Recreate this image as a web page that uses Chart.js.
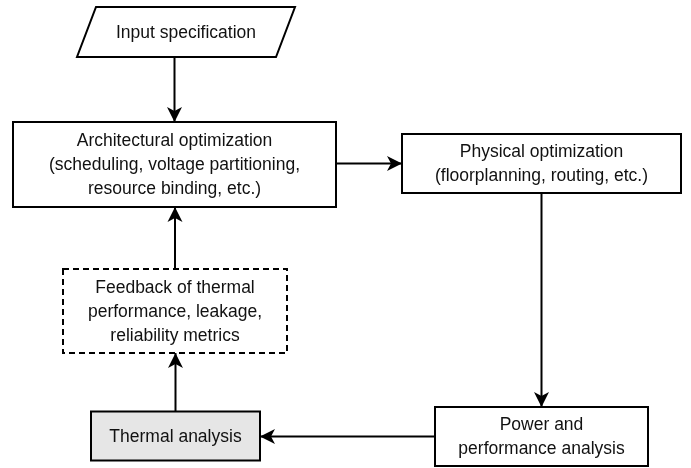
<!DOCTYPE html>
<html>
<head>
<meta charset="utf-8">
<script src="https://cdn.jsdelivr.net/npm/chart.js@4"></script>
<style>
  html, body { margin: 0; padding: 0; background: #fff; }
  #wrap { width: 691px; height: 468px; }
</style>
</head>
<body>
<div id="wrap"><canvas id="flow" width="691" height="468"></canvas></div>
<script>
// ---------- data ----------
const nodeLabels = [
    ['Input specification'],
    ['Architectural optimization', '(scheduling, voltage partitioning,', 'resource binding, etc.)'],
    ['Physical optimization', '(floorplanning, routing, etc.)'],
    ['Power and', 'performance analysis'],
    ['Thermal analysis'],
    ['Feedback of thermal', 'performance, leakage,', 'reliability metrics']
];
const nodeX = [186, 174.5, 541.5, 541.5, 175.5, 175];
const nodeY = [32, 164.5, 163.5, 436.5, 436, 311];
const edgeFrom = [0, 1, 2, 3, 4, 5];
const edgeTo   = [1, 2, 3, 4, 5, 1];

// ---------- layout / style (not data) ----------
const SHAPES = ['parallelogram', 'box', 'box', 'box', 'grey', 'dashed'];
const SIZES = [[199, 50], [323, 85], [279, 59], [213, 59], [169, 49], [224, 84]];
const SKEW = 19;
const FONT = "17.5px 'Liberation Sans', Arial, sans-serif";
const LINE_H = 24;

function boxOf(i) {
    const [w, h] = SIZES[i];
    return { l: nodeX[i] - w / 2, r: nodeX[i] + w / 2, t: nodeY[i] - h / 2, b: nodeY[i] + h / 2 };
}

// edge endpoints derived from the node boxes
function edgePoints(k) {
    const a = boxOf(edgeFrom[k]), b = boxOf(edgeTo[k]);
    const f = edgeFrom[k], t = edgeTo[k];
    if (a.b < b.t) return [{ x: nodeX[t], y: a.b }, { x: nodeX[t], y: b.t }];     // down
    if (a.t > b.b) return [{ x: nodeX[f], y: a.t }, { x: nodeX[f], y: b.b }];     // up
    if (a.r < b.l) return [{ x: a.r, y: nodeY[t] }, { x: b.l, y: nodeY[t] }];     // right
    return [{ x: a.l, y: nodeY[f] }, { x: b.r, y: nodeY[f] }];                   // left
}

const edgeSets = edgeFrom.map((_, k) => ({
    type: 'line',
    data: edgePoints(k),
    borderColor: '#000',
    borderWidth: 2,
    pointRadius: 0,
    fill: false,
    tension: 0
}));

const nodeSet = {
    type: 'scatter',
    data: nodeX.map((x, i) => ({ x, y: nodeY[i] })),
    pointRadius: 0
};

// arrowheads + node shapes drawn with the chart's scales
const flowPlugin = {
    id: 'flow',
    afterDatasetsDraw(chart) {
        const ctx = chart.ctx;
        const xs = chart.scales.x, ys = chart.scales.y;
        const px = v => xs.getPixelForValue(v), py = v => ys.getPixelForValue(v);

        // arrowheads
        edgeFrom.forEach((_, k) => {
            const [p0, p1] = edgePoints(k);
            const x0 = px(p0.x), y0 = py(p0.y), x1 = px(p1.x), y1 = py(p1.y);
            const ang = Math.atan2(y1 - y0, x1 - x0);
            const L = 15, W = 7.5, N = 4;
            ctx.save();
            ctx.translate(x1, y1);
            ctx.rotate(ang);
            ctx.beginPath();
            ctx.moveTo(0, 0);
            ctx.lineTo(-L, -W);
            ctx.lineTo(-L + N, 0);
            ctx.lineTo(-L, W);
            ctx.closePath();
            ctx.fillStyle = '#000';
            ctx.fill();
            ctx.restore();
        });

        // nodes
        nodeLabels.forEach((lines, i) => {
            const bx = boxOf(i);
            const l = px(bx.l), r = px(bx.r), t = py(bx.t), b = py(bx.b);
            ctx.save();
            ctx.lineWidth = 2;
            ctx.strokeStyle = '#000';
            ctx.beginPath();
            if (SHAPES[i] === 'parallelogram') {
                ctx.moveTo(l + SKEW / 2 + 0, t);
                ctx.lineTo(r + SKEW / 2, t);
                ctx.lineTo(r - SKEW / 2, b);
                ctx.lineTo(l - SKEW / 2, b);
                ctx.closePath();
            } else {
                ctx.rect(l, t, r - l, b - t);
            }
            ctx.fillStyle = SHAPES[i] === 'grey' ? '#e6e6e6' : '#fff';
            ctx.fill();
            if (SHAPES[i] === 'dashed') ctx.setLineDash([6, 4]);
            ctx.stroke();
            ctx.setLineDash([]);

            ctx.fillStyle = '#111';
            ctx.font = FONT;
            ctx.textAlign = 'center';
            ctx.textBaseline = 'middle';
            const cx = px(nodeX[i]), cy = py(nodeY[i]);
            const top = cy - (lines.length - 1) * LINE_H / 2;
            lines.forEach((s, j) => ctx.fillText(s, cx, top + j * LINE_H + 1));
            ctx.restore();
        });
    }
};

new Chart(document.getElementById('flow'), {
    data: { datasets: [...edgeSets, nodeSet] },
    options: {
        responsive: false,
        animation: false,
        devicePixelRatio: 1,
        layout: { padding: 0 },
        plugins: { legend: { display: false }, tooltip: { enabled: false } },
        scales: {
            x: { type: 'linear', min: 0, max: 691, display: false },
            y: { type: 'linear', min: 0, max: 468, reverse: true, display: false }
        }
    },
    plugins: [flowPlugin]
});
</script>
</body>
</html>
